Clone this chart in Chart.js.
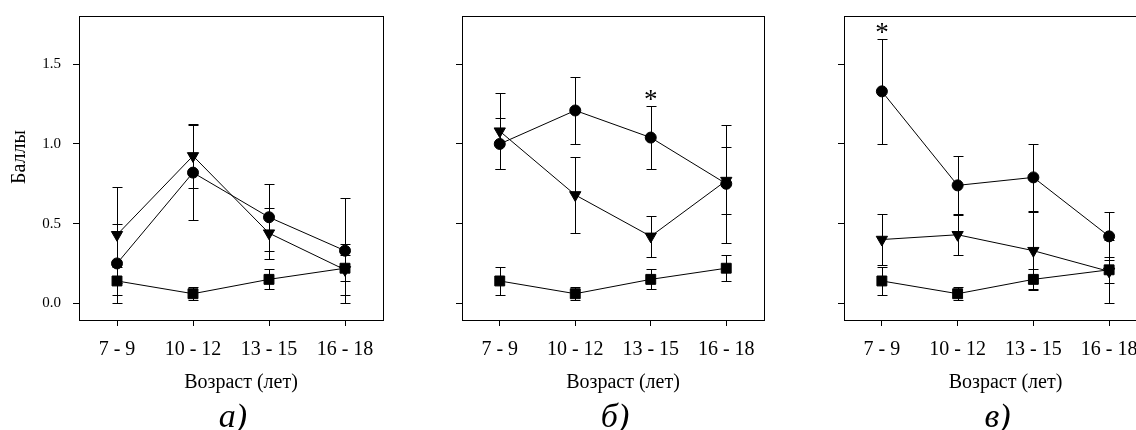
<!DOCTYPE html>
<html>
<head>
<meta charset="utf-8">
<script src="https://cdn.jsdelivr.net/npm/chart.js@4"></script>
<style>
  html, body { margin: 0; padding: 0; background: #fff; overflow: hidden; width: 1136px; height: 430px; }
  canvas { position: absolute; top: 0; }
</style>
</head>
<body>
<canvas id="panelA" width="393" height="430" style="left:0px"></canvas>
<canvas id="panelB" width="391" height="430" style="left:383px"></canvas>
<canvas id="panelC" width="392" height="430" style="left:765px"></canvas>
<script>
// Категории возраста и деления оси Y
const categories = ['7 - 9', '10 - 12', '13 - 15', '16 - 18'];
const yTicks = [0, 0.5, 1.0, 1.5];

// Панель а)
const circleA = [0.25, 0.82, 0.54, 0.33];
const circleErrA = [0.25, 0.30, 0.21, 0.33];
const triA = [0.43, 0.925, 0.44, 0.21];
const triErrA = [0.30, 0.20, 0.16, 0.16];
const squareA = [0.14, 0.06, 0.15, 0.22];
const squareErrA = [0.09, 0.04, 0.063, 0.08];
const starsA = [];

// Панель б)
const circleB = [1.00, 1.21, 1.04, 0.75];
const circleErrB = [0.16, 0.21, 0.20, 0.37];
const triB = [1.08, 0.68, 0.42, 0.77];
const triErrB = [0.24, 0.24, 0.13, 0.21];
const squareB = [0.14, 0.06, 0.15, 0.22];
const squareErrB = [0.085, 0.04, 0.063, 0.08];
const starsB = [2];

// Панель в)
const circleC = [1.33, 0.74, 0.79, 0.42];
const circleErrC = [0.33, 0.185, 0.21, 0.15];
const triC = [0.40, 0.43, 0.33, 0.20];
const triErrC = [0.16, 0.13, 0.245, 0.20];
const squareC = [0.14, 0.06, 0.15, 0.21];
const squareErrC = [0.09, 0.04, 0.063, 0.08];
const starsC = [0];

const serif = '"Liberation Serif", "Times New Roman", serif';
Chart.defaults.font.family = serif;
Chart.defaults.color = '#000';

// Планки погрешностей
const errorBars = {
  id: 'errorBars',
  beforeDatasetsDraw(chart) {
    const { ctx, scales: { x, y } } = chart;
    ctx.save();
    ctx.strokeStyle = '#000';
    ctx.lineWidth = 1;
    chart.data.datasets.forEach(ds => {
      ds.data.forEach((v, i) => {
        const e = ds.errors[i];
        const px = Math.round(x.getPixelForValue(i)) + 0.5;
        const top = Math.round(y.getPixelForValue(v + e)) + 0.5;
        const bot = Math.round(y.getPixelForValue(v - e)) + 0.5;
        ctx.beginPath();
        ctx.moveTo(px, top); ctx.lineTo(px, bot);
        ctx.moveTo(px - 5, top); ctx.lineTo(px + 5, top);
        ctx.moveTo(px - 5, bot); ctx.lineTo(px + 5, bot);
        ctx.stroke();
      });
    });
    ctx.restore();
  }
};

// Рамка, подписи, звездочки
const panelDecor = {
  id: 'panel',
  afterDraw(chart, args, opts) {
    const { ctx, chartArea: { left, right, top, bottom }, scales: { x, y } } = chart;
    ctx.save();
    ctx.strokeStyle = '#000';
    ctx.lineWidth = 1;
    ctx.strokeRect(Math.round(left) + 0.5, Math.round(top) + 0.5, Math.round(right - left), Math.round(bottom - top));

    ctx.fillStyle = '#000';
    ctx.textAlign = 'center';
    ctx.textBaseline = 'alphabetic';
    const cx = (left + right) / 2;
    ctx.font = '20px ' + serif;
    ctx.fillText('Возраст (лет)', cx + 10, 388);
    ctx.font = 'italic 34px ' + serif;
    ctx.fillText(opts.letter, cx + 2, 427);

    ctx.font = '27px ' + serif;
    opts.stars.forEach(i => {
      const hi = Math.max(...chart.data.datasets.map(ds => ds.data[i] + ds.errors[i]));
      ctx.fillText('*', x.getPixelForValue(i), y.getPixelForValue(hi) + 2);
    });

    if (opts.yTitle) {
      ctx.translate(25, 157);
      ctx.rotate(-Math.PI / 2);
      ctx.font = '20px ' + serif;
      ctx.fillText(opts.yTitle, 0, 0);
    }
    ctx.restore();
  }
};

function series(data, errors, style, radius, rotation) {
  return {
    data: data,
    errors: errors,
    pointStyle: style,
    pointRadius: radius,
    pointRotation: rotation,
    borderColor: '#000',
    backgroundColor: '#000',
    pointBackgroundColor: '#000',
    pointBorderColor: '#000',
    pointBorderWidth: 1,
    borderWidth: 1,
    tension: 0,
    fill: false,
    clip: false
  };
}

function makePanel(id, circle, circleErr, tri, triErr, square, squareErr, stars, letter, showY) {
  return new Chart(document.getElementById(id), {
    type: 'line',
    data: {
      labels: categories,
      datasets: [
        series(circle, circleErr, 'circle', 5.5, 0),
        series(tri, triErr, 'triangle', 6.5, 180),
        series(square, squareErr, 'rect', 7, 0)
      ]
    },
    options: {
      responsive: false,
      animation: false,
      events: [],
      layout: { padding: { left: 0, right: 10, top: 16, bottom: 0 } },
      plugins: {
        colors: { enabled: false },
        legend: { display: false },
        tooltip: { enabled: false },
        panel: { letter: letter, stars: stars, yTitle: showY ? 'Баллы' : '' }
      },
      scales: {
        x: {
          type: 'category',
          offset: true,
          grid: { offset: false, drawOnChartArea: false, drawTicks: true, tickLength: 6, color: '#000', lineWidth: 1 },
          border: { display: false },
          ticks: { font: { size: 20 }, padding: 12, maxRotation: 0, autoSkip: false },
          afterFit: s => { s.height = 110; }
        },
        y: {
          min: -0.105,
          max: 1.803,
          afterBuildTicks: s => { s.ticks = yTicks.map(v => ({ value: v })); },
          grid: { drawOnChartArea: false, drawTicks: true, tickLength: 6, color: '#000', lineWidth: 1 },
          border: { display: false },
          ticks: { display: showY, font: { size: 15 }, padding: 12, callback: v => v.toFixed(1) },
          afterFit: s => { s.width = 79; s.paddingTop = 0; s.paddingBottom = 0; }
        }
      }
    },
    plugins: [errorBars, panelDecor]
  });
}

makePanel('panelA', circleA, circleErrA, triA, triErrA, squareA, squareErrA, starsA, 'а)', true);
makePanel('panelB', circleB, circleErrB, triB, triErrB, squareB, squareErrB, starsB, 'б)', false);
makePanel('panelC', circleC, circleErrC, triC, triErrC, squareC, squareErrC, starsC, 'в)', false);
</script>
</body>
</html>
